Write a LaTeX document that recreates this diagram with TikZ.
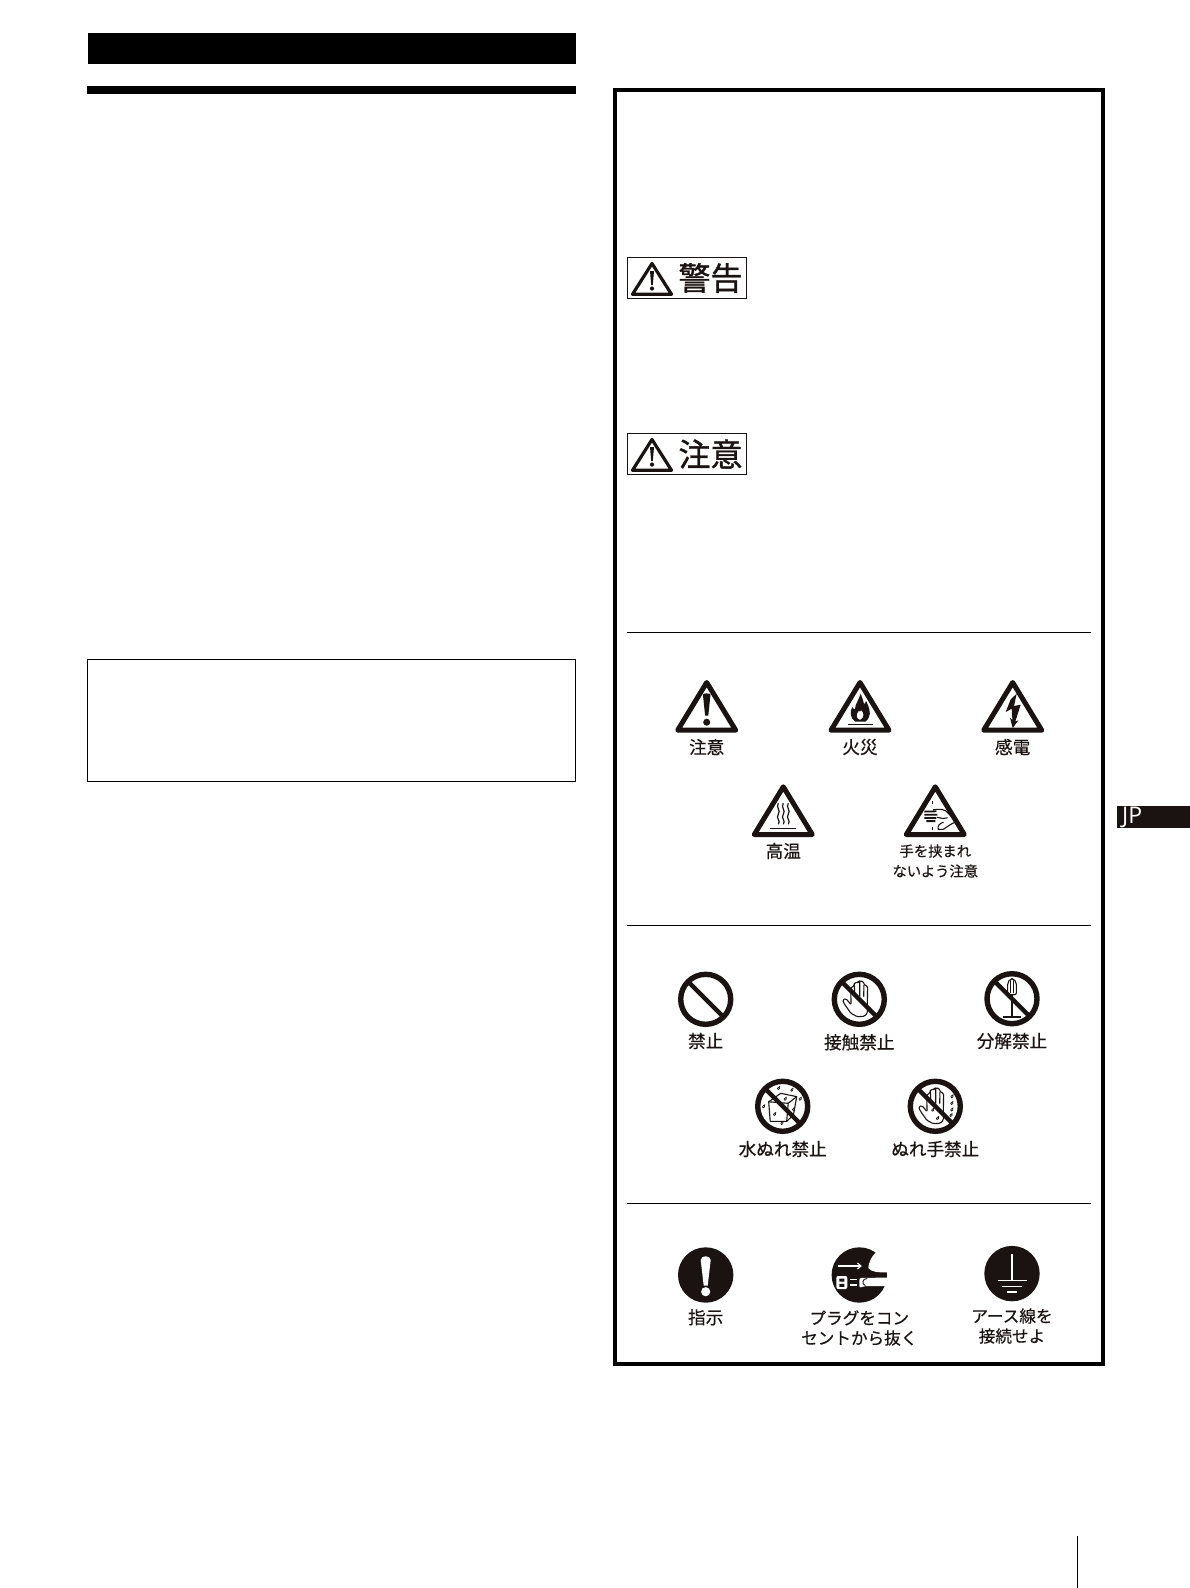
\documentclass[tikz,border=0pt]{standalone}
\usepackage{fontspec}
\usetikzlibrary{arrows.meta}
\newfontfamily\jpfont[FakeBold=0.45]{Noto Sans CJK JP}
\newfontfamily\jpheavy[FakeBold=1.1]{Noto Sans CJK JP}
\newfontfamily\latinfont{Open Sans}
\newcommand\lblfont{\jpfont\fontsize{17.6}{20}\selectfont}
\newcommand\lblsmall{\jpfont\fontsize{14.3}{20}\selectfont}
\newcommand\lblmid{\jpfont\fontsize{16.6}{20}\selectfont}
\newcommand\headfont{\jpheavy\fontsize{32}{32}\selectfont}
\definecolor{inkk}{HTML}{1A1311}
\tikzset{
  lbl/.style={font=\lblfont,text=inkk,align=center,inner sep=0pt},
  headlbl/.style={font=\headfont,text=inkk,inner sep=0pt},
  tribody/.style={draw=inkk,line width=5pt,line join=round,fill=white},
  ringbody/.style={draw=inkk,line width=5.4pt,fill=white},
  slashbar/.style={draw=inkk,line width=4.4pt},
  thinink/.style={draw=inkk,line width=1.1pt,line join=round,line cap=round},
  solidcirc/.style={fill=inkk},
  divider/.style={draw=black,line width=1pt},
}
% triangle: origin at the apex
\newcommand\wtri[3]{\begin{scope}[shift={(#1,#2)}]
  \draw[tribody] (0,2.5) -- (29,50.2) -- (-29,50.2) -- cycle;
  #3
\end{scope}}
\newcommand\ring[3]{\begin{scope}[shift={(#1,#2)}]
  \draw[ringbody] (0,0) circle (25);
  #3
  \draw[slashbar] (-17.7,-17.7) -- (17.7,17.7);
\end{scope}}
\newcommand\wdrop[2]{\begin{scope}[shift={(#1,#2)}]
  \draw[draw=inkk,line width=.7pt] (1.3,-1.8) .. controls (1.6,0) and (1,1.2) .. (-.2,1.2) .. controls (-1.4,1.2) and (-1.4,-.4) .. (1.3,-1.8) -- cycle;
\end{scope}}
\newcommand\openhand{%
  \draw[thinink,fill=white,rounded corners=1.3pt] (8,9) -- (8.3,-13) -- (4.6,-14.5) -- (4.4,-17.6) -- (.6,-18.4) -- (-.8,-18) -- (-1.2,-16.6) -- (-4.8,-16.8) -- (-5.6,-12.5) -- (-8.6,-12) -- (-8.2,5.5) -- (-13.2,-.6) -- (-16.4,.2) -- (-15.8,3.4) -- (-8.4,14) -- (-2,17.4) -- (5,17) -- (8,14) -- cycle;
  \draw[thinink] (4.6,-14) -- (4.4,-3) (.4,-17) -- (.4,-3) (-5,-16) -- (-4.4,-3);
}
\begin{document}
\begin{tikzpicture}[x=1pt,y=-1pt]
\useasboundingbox (0,0) rectangle (1190,1588);
\fill[white] (0,0) rectangle (1190,1588);
% left column
\fill[black] (88,33) rectangle (576,64);
\fill[black] (87,86) rectangle (576,94);
\draw[black,line width=1pt] (87.5,659.5) rectangle (575.5,781.5);
% right frame
\draw[black,line width=4.2pt] (615,90) rectangle (1103,1364);
\draw[divider] (627,632.5) -- (1091,632.5);
\draw[divider] (627,925.5) -- (1091,925.5);
\draw[divider] (627,1203.5) -- (1091,1203.5);
% heading labels
\draw[draw=inkk,line width=1.3pt] (627.5,257.5) rectangle (746.5,298.5);
\draw[draw=inkk,line width=3.2pt,line join=round] (652,263.5) -- (671.5,294.3) -- (632.5,294.3) -- cycle;
\fill[inkk] (650,271) -- (654,271) -- (652.8,285) -- (651.2,285) -- cycle;
\fill[inkk] (652,288.5) circle (2.1);
\node[headlbl] (hwarn) at (710.5,278) {警告};
\draw[draw=inkk,line width=1.3pt] (627.5,433.5) rectangle (746.5,474.5);
\draw[draw=inkk,line width=3.2pt,line join=round] (652,439.5) -- (671.5,470.3) -- (632.5,470.3) -- cycle;
\fill[inkk] (650,447) -- (654,447) -- (652.8,461) -- (651.2,461) -- cycle;
\fill[inkk] (652,464.5) circle (2.1);
\node[headlbl] (hcaut) at (710.5,454) {注意};
% warning triangles
\wtri{706.7}{680}{
  \fill[inkk] (-3.8,14.5) .. controls (-3.4,13) and (3.4,13) .. (3.8,14.5) -- (1.6,35.5) -- (-1.6,35.5) -- cycle;
  \fill[inkk] (0,42.2) circle (3.5);
}
\wtri{860}{680}{
  \fill[inkk,even odd rule] (-5,41.5) .. controls (-10,38) and (-10.5,31) .. (-7.5,27) .. controls (-6.8,29) and (-6,29.5) .. (-5,29) .. controls (-5,24) and (-1,20) .. (.7,13.5) .. controls (2,18) and (3.5,20) .. (4,24) .. controls (5,23.5) and (5.5,22.5) .. (6,21) .. controls (9,26) and (11,33) .. (9,37) .. controls (8,39.5) and (7,40.5) .. (5.5,41.5) -- cycle
  (0,40) .. controls (-4,39) and (-4.5,34) .. (-1,30.5) .. controls (-.5,32) and (.5,32) .. (1,30) .. controls (4,32) and (5,38) .. (0,40) -- cycle;
  \draw[draw=inkk,line width=1.4pt] (-12,44.5) -- (12.5,44.5);
}
\wtri{1012.7}{680}{
  \fill[inkk] (-2,19.3) -- (4,13.7) -- (1.3,26) -- (8,24.7) -- (2.6,41.5) -- (5.7,40.3) -- (0,48) -- (-2.7,38) -- (-.3,40) -- (-1,28.7) -- (-7,32) -- cycle;
}
\wtri{783.3}{784.3}{
  \foreach \wx in {-5,0,5}{
    \draw[draw=inkk,line width=1.2pt] (\wx,19) .. controls (\wx-3,23) and (\wx+3,26) .. (\wx,30) .. controls (\wx-3,34) and (\wx+3,36) .. (\wx,40);
  }
  \draw[draw=inkk,line width=1.4pt] (-13,44) -- (13,44);
}
\wtri{935.3}{784.3}{
  \draw[draw=inkk,line width=1.8pt] (-11,27.3) -- (1,27) (-11,30.5) -- (2,30.5) (-11,33.7) -- (1,33.7) (-9,36.8) -- (0,36.8);
  \draw[thinink] (-2,25.5) .. controls (4,24.5) and (10,24.5) .. (13,29) .. controls (15,32) and (18,34) .. (21,35.5);
  \draw[thinink] (2,33) .. controls (7,34) and (9,35) .. (12,33.5) (20,38) .. controls (16,39) and (13,42) .. (8,45) -- (3,45) .. controls (2,42) and (4,39) .. (8,38);
  \draw[draw=inkk,line width=1.2pt] (-2.7,17) -- (-2.7,19.5) (-2.7,43) -- (-2.7,45.5);
}
% labels, caution row
\node[lbl] (l1) at (706.7,747) {注意};
\node[lbl] (l2) at (860,747) {火災};
\node[lbl] (l3) at (1012.7,747) {感電};
\node[lbl] (l4) at (783.3,851) {高温};
\node[lbl,font=\lblsmall] (l5) at (935.3,861) {手を挟まれ\\ないよう注意};
% prohibition
\ring{705.7}{999.3}{}
\ring{859.3}{999.3}{\openhand}
\ring{1012}{998.7}{
  \draw[thinink,fill=white,rounded corners=2pt] (-4.4,-4) -- (-4.4,-16) -- (-1.5,-20) -- (1.5,-20) -- (4.4,-16) -- (4.4,-4) -- cycle;
  \draw[thinink] (-1.5,-18) -- (-1.5,-6) (1.5,-18) -- (1.5,-6);
  \draw[draw=inkk,line width=1.8pt] (0,-4) -- (0,17);
  \draw[draw=inkk,line width=1.6pt] (-9,18) -- (9,18);
}
\ring{782.7}{1106.3}{
  \draw[thinink,fill=white] (-14,-4.5) -- (-2,-13) -- (14,-9.7) -- (10.7,8.7) -- (4,15) -- (-12.5,15) -- cycle;
  \draw[thinink] (-14,-4.5) -- (5.5,-3) -- (14,-9.7) (5.5,-3) -- (4,15);
  \wdrop{-4.3}{-18}\wdrop{9}{-16.3}\wdrop{2.3}{-7.3}\wdrop{17.3}{-7.3}\wdrop{10.7}{3}\wdrop{-19.3}{.3}\wdrop{-8.3}{8}\wdrop{-1}{17}
}
\ring{935.3}{1106.3}{
  \openhand
  \wdrop{16.5}{-9.7}\wdrop{16.3}{-3}\wdrop{16.3}{3.5}\wdrop{15.5}{9}\wdrop{-2.7}{3.7}\wdrop{2}{12}
}
\node[lbl] (p1) at (705.7,1041) {禁止};
\node[lbl] (p2) at (859.3,1042.3) {接触禁止};
\node[lbl] (p3) at (1012,1041) {分解禁止};
\node[lbl] (p4) at (782.7,1149) {水ぬれ禁止};
\node[lbl] (p5) at (935.3,1149) {ぬれ手禁止};
% mandatory
\begin{scope}[shift={(705.7,1275)}]
  \fill[solidcirc] (0,0) circle (27.7);
  \fill[white] (-5,-15) .. controls (-5,-20) and (5,-20) .. (5,-15) -- (2,10.7) -- (-2,10.7) -- cycle;
  \fill[white] (0,16.7) circle (4.6);
\end{scope}
\begin{scope}[shift={(859.3,1275)}]
  \fill[solidcirc] (0,0) circle (27.7);
  \fill[white] (19,-25) .. controls (12,-19) and (9,-12) .. (9,-7) .. controls (12,-3) and (18,-2.5) .. (30,-2.5) -- (30,-25) -- cycle;
  \draw[draw=white,line width=1.2pt,-{Straight Barb[length=3.4pt,width=6pt]}] (-21,-9) -- (2.5,-9);
  \fill[white,rounded corners=2pt] (-23,1) rectangle (-12,14);
  \fill[inkk] (-20,3.5) rectangle (-15,6.5) (-20,8.8) rectangle (-15,11.8);
  \draw[draw=white,line width=1.6pt] (-9,4.5) -- (-2,4.5) (-9,10) -- (-2,10);
  \fill[white,rounded corners=2pt] (0,3) -- (30,2.5) -- (30,11) -- (5,11) -- (0,13) -- cycle;
  \draw[draw=inkk,line width=.9pt] (8,3.5) .. controls (3,3.5) and (2,9) .. (6,10.5);
\end{scope}
\begin{scope}[shift={(1012,1273.6)}]
  \fill[solidcirc] (0,0) circle (27.7);
  \draw[draw=white,line width=1.4pt] (0,-19.3) -- (0,6.7) (-14.5,6.7) -- (14.5,6.7) (-10,12.7) -- (10,12.7) (-5,18.3) -- (5,18.3);
\end{scope}
\node[lbl] (m1) at (705.7,1317.3) {指示};
\node[lbl,font=\lblmid] (m2) at (859.3,1328) {プラグをコン\\セントから抜く};
\node[lbl,font=\lblmid] (m3) at (1012,1326) {アース線を\\接続せよ};
% tab and page rule
\fill[inkk] (1117,806) rectangle (1190,828);
\node[inner sep=0pt,anchor=west,text=white,font=\latinfont\fontsize{23}{23}\selectfont] (jp) at (1122,817.5) {JP};
\draw[black,line width=1.2pt] (1077.6,1536) -- (1077.6,1588);
\end{tikzpicture}
\end{document}
